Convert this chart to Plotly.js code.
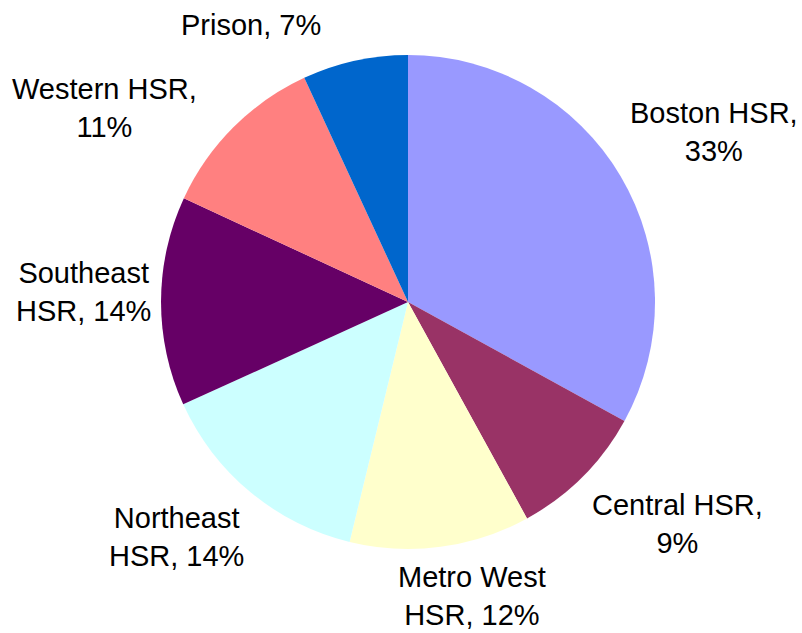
<!DOCTYPE html>
<html>
<head>
<meta charset="utf-8">
<script src="https://cdn.plot.ly/plotly-3.0.1.min.js"></script>
<style>html,body{margin:0;padding:0;background:#fff;}#chart{width:802px;height:633px;}</style>
</head>
<body>
<div id="chart"></div>
<script>
const categories = ['Boston HSR', 'Central HSR', 'Metro West HSR', 'Northeast HSR', 'Southeast HSR', 'Western HSR', 'Prison'];
const shares = [33.0, 9.0, 11.8, 14.4, 13.7, 11.2, 6.9];
const labelLines = [['Boston HSR,', ''], ['Central HSR,', ''], ['Metro West', 'HSR, '], ['Northeast', 'HSR, '], ['Southeast', 'HSR, '], ['Western HSR,', ''], ['Prison, ']];
const colors = ['#9999FF', '#993366', '#FFFFCC', '#CCFFFF', '#660066', '#FF8080', '#0066CC'];

// label nudges (pixels) from the slice edge point, mimicking the original label placement
const labelShift = [[93, 44], [94, -47], [31, -48], [-73, -44], [-77, 9], [-128, 19], [-104, 35]];

const W = 802, H = 633;
const dom = {x: [0.1995, 0.818], y: [0.1327, 0.9131]};
const R = 248;
const cx = (dom.x[0] + dom.x[1]) / 2, cy = (dom.y[0] + dom.y[1]) / 2;

const total = shares.reduce((a, b) => a + b, 0);
let cum = 0;
const annotations = shares.map((v, i) => {
  const mid = (cum + v / 2) / total * 2 * Math.PI;
  cum += v;
  const pct = Math.round(v / total * 100) + '%';
  const lines = labelLines[i];
  const text = lines.length === 1 ? lines[0] + pct : lines[0] + '<br>' + lines[1] + pct;
  return {
    xref: 'paper', yref: 'paper',
    x: cx + R * Math.sin(mid) / W,
    y: cy + R * Math.cos(mid) / H,
    xanchor: 'center', yanchor: 'middle', align: 'center',
    xshift: labelShift[i][0], yshift: labelShift[i][1],
    showarrow: false,
    text: text,
    font: {family: 'Liberation Sans, Arial, sans-serif', size: 29, color: '#000'}
  };
});

const trace = {
  type: 'pie',
  labels: categories,
  values: shares,
  sort: false,
  direction: 'clockwise',
  rotation: 0,
  marker: {colors: colors, line: {width: 0}},
  textinfo: 'none',
  automargin: false,
  showlegend: false,
  hoverinfo: 'none',
  domain: dom
};

Plotly.newPlot('chart', [trace], {
  width: W, height: H,
  margin: {l: 0, r: 0, t: 0, b: 0},
  paper_bgcolor: '#fff',
  showlegend: false,
  annotations: annotations
}, {staticPlot: true});
</script>
</body>
</html>
